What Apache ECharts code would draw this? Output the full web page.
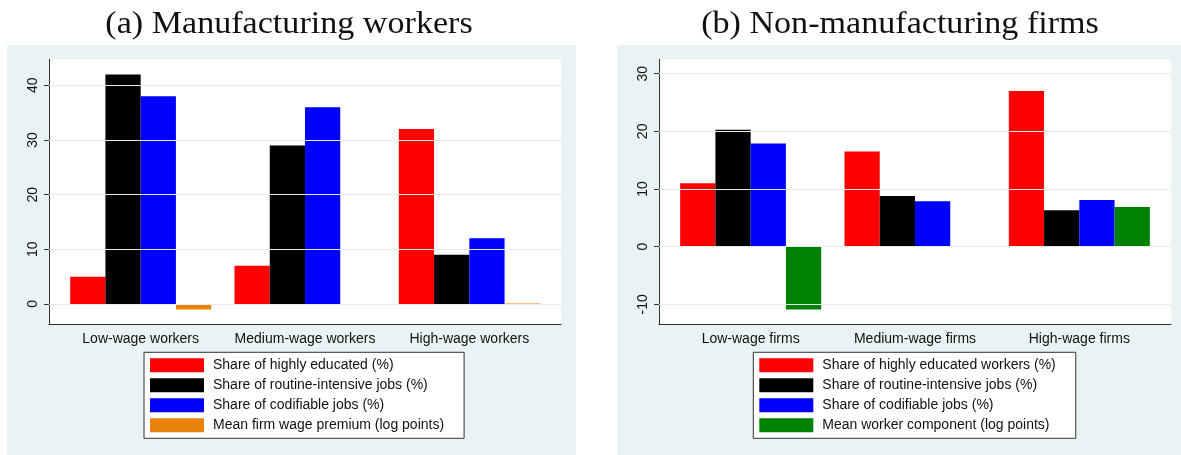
<!DOCTYPE html>
<html>
<head>
<meta charset="utf-8">
<script src="https://cdn.jsdelivr.net/npm/echarts@6/dist/echarts.min.js"></script>
<style>
html,body{margin:0;padding:0;background:#fff;}
#chart{width:1181px;height:455px;}
</style>
</head>
<body>
<div id="chart"></div>
<script>
// ---- Data ----
var categoriesA = ['Low-wage workers', 'Medium-wage workers', 'High-wage workers'];
var educatedA   = [5, 7, 32];
var routineA    = [42, 29, 9];
var codifiableA = [38, 36, 12];
var premiumA    = [-1, 0, 0.1];
var namesA = ['Share of highly educated (%)', 'Share of routine-intensive jobs (%)',
              'Share of codifiable jobs (%)', 'Mean firm wage premium (log points)'];
var yTicksA = [0, 10, 20, 30, 40];

var categoriesB = ['Low-wage firms', 'Medium-wage firms', 'High-wage firms'];
var educatedB   = [11, 16.5, 27];
var routineB    = [20.3, 8.8, 6.3];
var codifiableB = [17.9, 7.9, 8.1];
var workerB     = [-10.9, null, 6.9];
var namesB = ['Share of highly educated workers (%)', 'Share of routine-intensive jobs (%)',
              'Share of codifiable jobs (%)', 'Mean worker component (log points)'];
var yTicksB = [-10, 0, 10, 20, 30];

var titles = ['(a) Manufacturing workers', '(b) Non-manufacturing firms'];

// ---- Styling ----
var colors4A = ['#FF0000', '#000000', '#0000FF', '#E8820A'];
var colors4B = ['#FF0000', '#000000', '#0000FF', '#008000'];
var PANEL_BG = '#EAF2F3';
var AXIS = '#333333';
var FONT = 'Liberation Sans, Arial, sans-serif';

var rangeA = [-3.72, 44.76];
var rangeB = [-13.46, 32.5];

var plotTop = 59.3, plotH = 265, plotW = 512;
var plotLeftA = 49, plotLeftB = 659;
var inset = 9.5;

function frameY(range, ticks) {
  return {
    type: 'value', min: range[0], max: range[1],
    axisLine: {show: true, onZero: false, lineStyle: {color: AXIS, width: 1}},
    axisTick: {show: true, length: 5, customValues: ticks, lineStyle: {color: AXIS}},
    axisLabel: {show: true, rotate: 90, margin: 9, customValues: ticks,
                fontFamily: FONT, fontSize: 14, color: '#111'},
    splitLine: {show: false}
  };
}
function frameX() {
  return {
    type: 'value', min: 0, max: 1, position: 'bottom',
    axisLine: {show: true, onZero: false, lineStyle: {color: AXIS, width: 1}},
    axisTick: {show: false}, axisLabel: {show: false}, splitLine: {show: false}
  };
}
function dataX(cats, gi) {
  return {
    type: 'category', gridIndex: gi, data: cats, position: 'bottom',
    axisLine: {show: false, onZero: false}, axisTick: {show: false},
    axisLabel: {margin: 8, fontFamily: FONT, fontSize: 14, color: '#111', interval: 0}
  };
}
function dataY(range, gi) {
  return {
    type: 'value', gridIndex: gi, min: range[0], max: range[1],
    axisLine: {show: false}, axisTick: {show: false}, axisLabel: {show: false},
    splitLine: {show: false}
  };
}
function gridLines(ticks, xi, yi) {
  return {
    type: 'line', xAxisIndex: xi, yAxisIndex: yi, data: [], silent: true,
    markLine: {
      silent: true, symbol: 'none', label: {show: false},
      lineStyle: {color: '#E4EEF0', width: 1.2, type: 'solid'},
      data: ticks.map(function (t) { return {yAxis: t}; })
    },
    z: 1
  };
}
function bars(names, colors, arrays, xi, yi) {
  return names.map(function (n, i) {
    return {
      name: n, type: 'bar', xAxisIndex: xi, yAxisIndex: yi,
      data: arrays[i], barGap: '0%', barCategoryGap: '14.2%',
      itemStyle: {color: colors[i]}, z: 3
    };
  });
}
function legend(names, left) {
  return {
    data: names, orient: 'vertical', left: left, top: 352.3,
    itemWidth: 54, itemHeight: 14, itemGap: 6, icon: 'rect',
    padding: [6, 20, 6, 6],
    backgroundColor: '#fff', borderColor: '#333', borderWidth: 1, borderRadius: 0,
    textStyle: {fontFamily: FONT, fontSize: 14, color: '#111', lineHeight: 14, padding: [0, 0, 0, 4]},
    selectedMode: false
  };
}

var option = {
  animation: false,
  backgroundColor: '#ffffff',
  graphic: [
    {type: 'rect', shape: {x: 7, y: 45, width: 569, height: 410}, style: {fill: PANEL_BG}, z: -100, silent: true},
    {type: 'rect', shape: {x: 617, y: 45, width: 564, height: 410}, style: {fill: PANEL_BG}, z: -100, silent: true},
    {type: 'text', x: 289, y: 25, scaleX: 1.1, style: {text: titles[0], font: '31px "Liberation Serif", serif', fill: '#111', align: 'center', verticalAlign: 'middle'}},
    {type: 'text', x: 900, y: 25, scaleX: 1.1, style: {text: titles[1], font: '31px "Liberation Serif", serif', fill: '#111', align: 'center', verticalAlign: 'middle'}}
  ],
  grid: [
    {left: plotLeftA, top: plotTop, width: plotW, height: plotH, show: true, backgroundColor: '#fff', borderWidth: 0, containLabel: false},
    {left: plotLeftA + inset, top: plotTop, width: plotW - 2 * inset, height: plotH, containLabel: false},
    {left: plotLeftB, top: plotTop, width: plotW, height: plotH, show: true, backgroundColor: '#fff', borderWidth: 0, containLabel: false},
    {left: plotLeftB + inset, top: plotTop, width: plotW - 2 * inset, height: plotH, containLabel: false}
  ],
  xAxis: [
    Object.assign(frameX(), {gridIndex: 0}),
    dataX(categoriesA, 1),
    Object.assign(frameX(), {gridIndex: 2}),
    dataX(categoriesB, 3)
  ],
  yAxis: [
    Object.assign(frameY(rangeA, yTicksA), {gridIndex: 0}),
    dataY(rangeA, 1),
    Object.assign(frameY(rangeB, yTicksB), {gridIndex: 2}),
    dataY(rangeB, 3)
  ],
  legend: [legend(namesA, 144), legend(namesB, 753.3)],
  series: [].concat(
    [gridLines(yTicksA, 0, 0)],
    bars(namesA, colors4A, [educatedA, routineA, codifiableA, premiumA], 1, 1),
    [gridLines(yTicksB, 2, 2)],
    bars(namesB, colors4B, [educatedB, routineB, codifiableB, workerB], 3, 3)
  )
};

var chart = echarts.init(document.getElementById('chart'), null, {renderer: 'canvas'});
chart.setOption(option);
</script>
</body>
</html>
